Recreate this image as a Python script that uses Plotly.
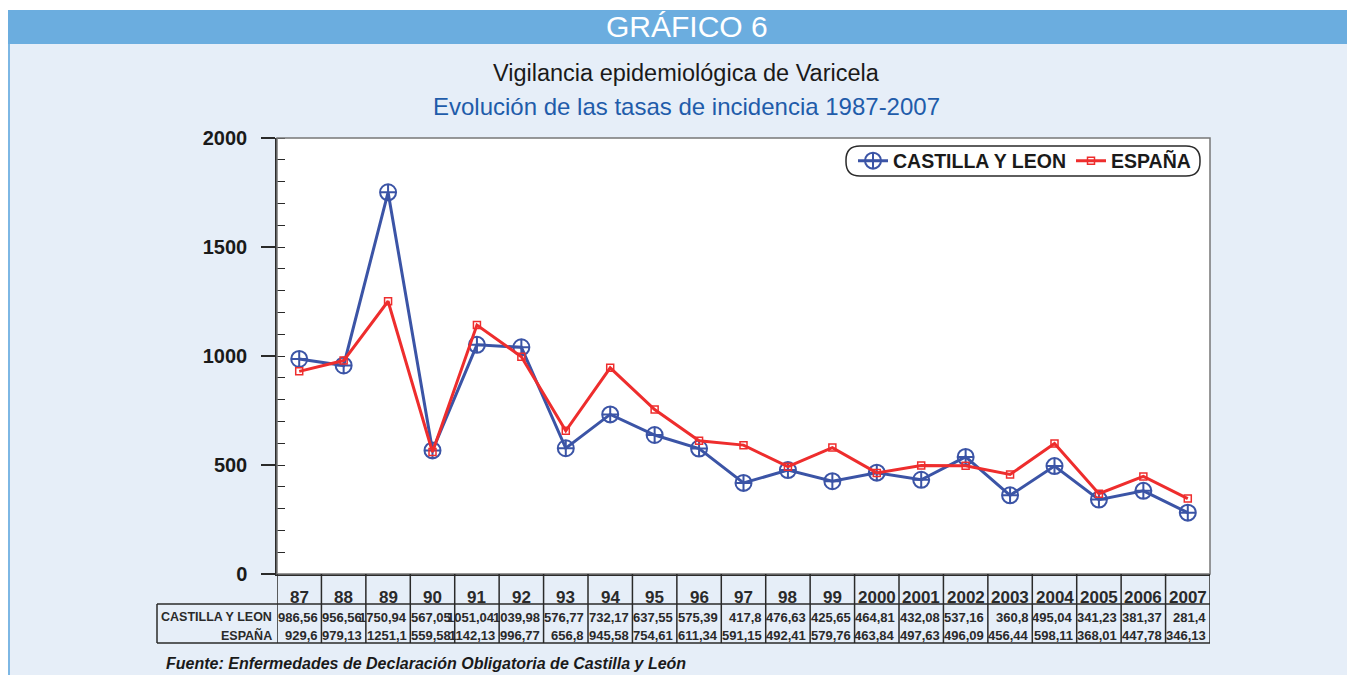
import plotly.graph_objects as go

categories = ["87", "88", "89", "90", "91", "92", "93", "94", "95", "96", "97",
              "98", "99", "2000", "2001", "2002", "2003", "2004", "2005", "2006", "2007"]
cyl_values = [986.56, 956.56, 1750.94, 567.05, 1051.04, 1039.98, 576.77, 732.17, 637.55, 575.39,
              417.8, 476.63, 425.65, 464.81, 432.08, 537.16, 360.8, 495.04, 341.23, 381.37, 281.4]
esp_values = [929.6, 979.13, 1251.1, 559.58, 1142.13, 996.77, 656.8, 945.58, 754.61, 611.34,
              591.15, 492.41, 579.76, 463.84, 497.63, 496.09, 456.44, 598.11, 368.01, 447.78, 346.13]
cyl_labels = ["986,56", "956,56", "1750,94", "567,05", "1051,04", "1039,98", "576,77", "732,17", "637,55", "575,39",
              "417,8", "476,63", "425,65", "464,81", "432,08", "537,16", "360,8", "495,04", "341,23", "381,37", "281,4"]
esp_labels = ["929,6", "979,13", "1251,1", "559,58", "1142,13", "996,77", "656,8", "945,58", "754,61", "611,34",
              "591,15", "492,41", "579,76", "463,84", "497,63", "496,09", "456,44", "598,11", "368,01", "447,78", "346,13"]
series_names = ["CASTILLA Y LEON", "ESPAÑA"]

BLUE = "#3B54A6"
RED = "#EE2D2D"
PANEL = "#E6EEF8"
HEADER = "#6BADDF"
DARK = "#2a2a2a"
FONT = "Liberation Sans, Arial, sans-serif"

OFF = 8  # browser body margin
# plot area in reference pixels
L, R, T, B = 277, 1210, 138, 574
W, H = R - L, B - T


def px(x):
    return (x - L) / W


def py(y):
    return (B - y) / H


fig = go.Figure()
fig.add_trace(go.Scatter(
    x=categories, y=cyl_values, name=series_names[0], mode="lines+markers",
    line=dict(color=BLUE, width=3),
    marker=dict(symbol="circle-cross-open", size=16, color=BLUE, line=dict(width=2, color=BLUE)),
))
fig.add_trace(go.Scatter(
    x=categories, y=esp_values, name=series_names[1], mode="lines+markers",
    line=dict(color=RED, width=3),
    marker=dict(symbol="square-open", size=7, color=RED, line=dict(width=1.5, color=RED)),
))

shapes = []
# left border line
shapes.append(dict(type="rect", xref="paper", yref="paper", x0=px(8), x1=px(10), y0=py(10), y1=py(680),
                   fillcolor="#7DB7E4", line=dict(width=0), layer="below"))
# top white strip
shapes.append(dict(type="rect", xref="paper", yref="paper", x0=px(0), x1=px(1360), y0=py(0), y1=py(10),
                   fillcolor="white", line=dict(width=0), layer="below"))
# header band
shapes.append(dict(type="rect", xref="paper", yref="paper", x0=px(8), x1=px(1360), y0=py(10), y1=py(44),
                   fillcolor=HEADER, line=dict(width=0), layer="below"))
# plot frame
shapes.append(dict(type="rect", xref="paper", yref="paper", x0=0, x1=1, y0=0, y1=1,
                   line=dict(color="#777777", width=1.5)))

# data table lines
TOP_ROW, BOT = 604, 643
for i in range(len(categories) + 1):
    shapes.append(dict(type="line", xref="x", yref="paper", x0=i - 0.5, x1=i - 0.5,
                       y0=py(B), y1=py(BOT), line=dict(color=DARK, width=1.5)))
shapes.append(dict(type="line", xref="paper", yref="paper", x0=px(157), x1=1, y0=py(TOP_ROW), y1=py(TOP_ROW),
                   line=dict(color=DARK, width=1.5)))
shapes.append(dict(type="line", xref="paper", yref="paper", x0=px(157), x1=1, y0=py(BOT), y1=py(BOT),
                   line=dict(color=DARK, width=1.5)))
shapes.append(dict(type="line", xref="paper", yref="paper", x0=px(157), x1=px(157), y0=py(TOP_ROW), y1=py(BOT),
                   line=dict(color=DARK, width=1.5)))

# rounded legend box
bx0, bx1, by0, by1, r = 846, 1200, 146, 176, 14
pts = [
    f"M {px(bx0 + r)},{py(by0)}",
    f"L {px(bx1 - r)},{py(by0)}",
    f"Q {px(bx1)},{py(by0)} {px(bx1)},{py(by0 + r)}",
    f"L {px(bx1)},{py(by1 - r)}",
    f"Q {px(bx1)},{py(by1)} {px(bx1 - r)},{py(by1)}",
    f"L {px(bx0 + r)},{py(by1)}",
    f"Q {px(bx0)},{py(by1)} {px(bx0)},{py(by1 - r)}",
    f"L {px(bx0)},{py(by0 + r)}",
    f"Q {px(bx0)},{py(by0)} {px(bx0 + r)},{py(by0)}",
    "Z",
]
shapes.append(dict(type="path", xref="paper", yref="paper", path=" ".join(pts),
                   line=dict(color=DARK, width=1.5), fillcolor="white"))


def ann(text, x, y, size, color, xanchor="center", weight="normal", style="normal", xref="paper"):
    return dict(text=text, xref=xref, yref="paper", x=x, y=py(y), xanchor=xanchor, yanchor="middle",
                showarrow=False,
                font=dict(family=FONT, size=size, color=color, weight=weight, style=style))


annotations = [
    ann("GRÁFICO 6", px(687), 27, 30, "white"),
    ann("Vigilancia epidemiológica de Varicela", px(686), 73, 23.5, "#1a1a1a"),
    ann("Evolución de las tasas de incidencia 1987-2007", px(686), 107, 24, "#1F5CAA"),
    ann("Fuente: Enfermedades de Declaración Obligatoria de Castilla y León", px(164), 663, 16,
        "#1a1a1a", xanchor="left", weight="bold", style="italic"),
]

for i, c in enumerate(categories):
    annotations.append(ann(c, i, 597, 17, DARK, weight="bold", xref="x"))
    annotations.append(ann(cyl_labels[i], i + 0.46, 617, 13, DARK, xanchor="right", weight="bold", xref="x"))
    annotations.append(ann(esp_labels[i], i + 0.46, 635, 13, DARK, xanchor="right", weight="bold", xref="x"))
for name, yy in zip(series_names, [617, 635]):
    annotations.append(ann(name, px(274), yy, 12.5, DARK, xanchor="right", weight="bold"))

fig.update_layout(
    width=1355 - OFF, height=675 - OFF,
    margin=dict(l=L - OFF, r=1355 - R, t=T - OFF, b=675 - B),
    paper_bgcolor=PANEL, plot_bgcolor="white",
    showlegend=True,
    legend=dict(orientation="h", x=px(1196), xanchor="right", y=py(161), yanchor="middle",
                bgcolor="rgba(0,0,0,0)", font=dict(family=FONT, size=19.5, color="#1a1a1a", weight="bold"),
                itemwidth=30, tracegroupgap=0),
    shapes=shapes, annotations=annotations,
    xaxis=dict(type="category", categoryorder="array", categoryarray=categories,
               range=[-0.5, len(categories) - 0.5], showticklabels=False, ticks="",
               showgrid=False, zeroline=False, showline=True, linecolor=DARK, linewidth=1.5),
    yaxis=dict(range=[0, 2000], tickvals=[0, 500, 1000, 1500, 2000], ticks="outside", ticklen=14,
               tickcolor=DARK, tickwidth=1.5, showgrid=False, zeroline=False, showline=True,
               linecolor=DARK, linewidth=1.5, ticklabelstandoff=10,
               tickfont=dict(family=FONT, size=20, color="#1a1a1a", weight="bold"),
               minor=dict(dtick=100, ticks="inside", ticklen=8, tickcolor=DARK, tickwidth=1.2)),
    font=dict(family=FONT),
)

fig.write_html("out.html")
